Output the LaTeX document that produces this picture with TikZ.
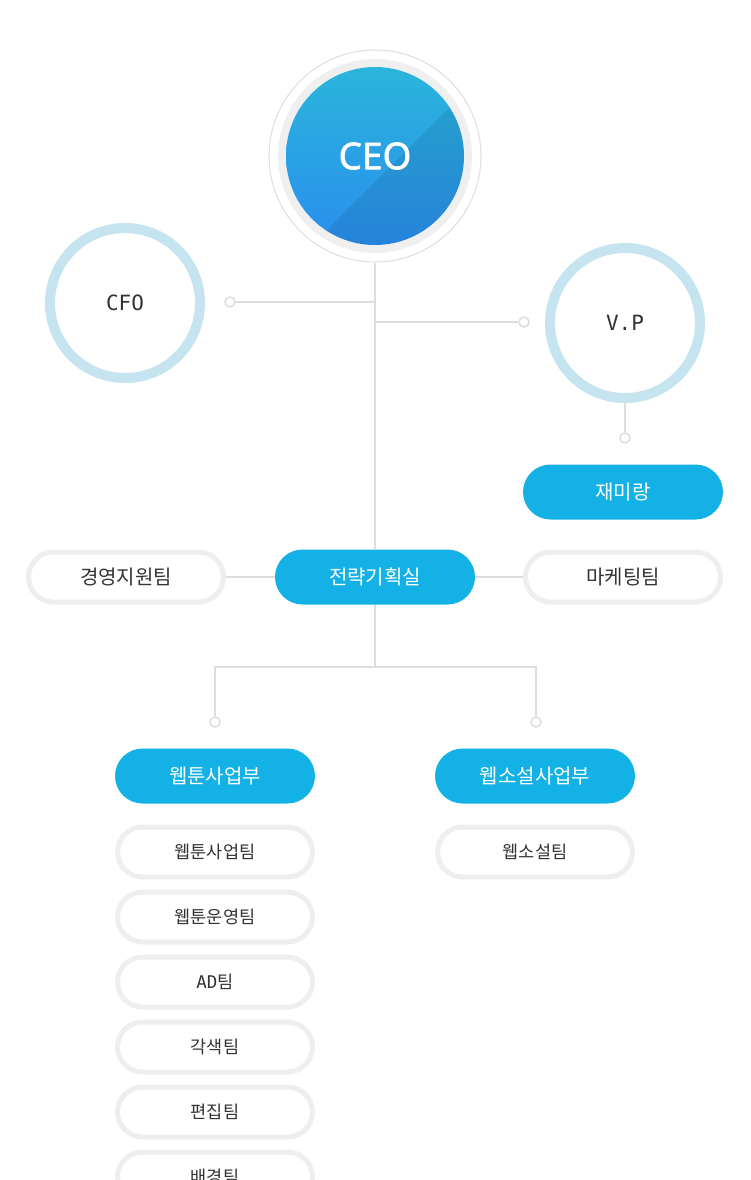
\documentclass[tikz,border=0pt]{standalone}
\usepackage{fontspec}
\setmainfont{Noto Sans CJK KR}
\setmonofont{DejaVu Sans Mono}
\newfontfamily\ceofont{Noto Sans}[FakeBold=1.6]
\definecolor{pillblue}{HTML}{13B1E5}
\definecolor{linegray}{HTML}{DDDDDD}
\definecolor{boxgray}{HTML}{EEEEEE}
\definecolor{ringblue}{HTML}{C5E4EF}
\definecolor{textgray}{HTML}{333333}
\definecolor{ceoband}{HTML}{EFEFEF}
\definecolor{ceotop}{HTML}{2AB5DB}
\definecolor{ceobottom}{HTML}{2A8EEE}
\begin{document}
\begin{tikzpicture}[x=1pt, y=-1pt,
  link/.style={draw=linegray, line width=2pt},
  pill node/.style={rounded corners=27.5pt, fill=pillblue, minimum width=200pt, minimum height=55pt, inner sep=0pt, text=white, font=\fontsize{20}{20}\selectfont},
  team node/.style={rounded corners=25pt, draw=boxgray, line width=5pt, fill=white, minimum width=195pt, minimum height=50pt, outer sep=2.5pt, inner sep=0pt, text=textgray, font=\fontsize{17.5}{17.5}\selectfont},
  ring node/.style={circle, draw=ringblue, line width=10pt, minimum size=150pt, outer sep=5pt, text=textgray, font=\ttfamily\fontsize{21}{21}\selectfont},
  end dot/.style={circle, draw=linegray, line width=1.5pt, fill=white, minimum size=10pt, inner sep=0pt}]
\useasboundingbox (0,0) rectangle (750,1180);
\clip (0,0) rectangle (750,1180);
% CEO disk
\fill[ceoband] (375,156) circle (97);
\shade[top color=ceotop, bottom color=ceobottom] (375,156) circle (89);
\begin{scope}
\clip (375,156) circle (89);
\fill[black, opacity=0.08] (580,-23) -- (300,257) -- (580,257) -- cycle;
\end{scope}
\node[circle, draw=linegray, line width=1pt, minimum size=212pt, text=white, font=\ceofont\fontsize{37}{37}\selectfont] (ceo) at (375,156) {CEO};
\begin{scope}
\node[ring node] (cfo) at (125,303) {CFO};
\node[ring node] (vp) at (625,323) {V.P};
\node[pill node] (jaemi) at (623,492) {재미랑};
\node[pill node] (plan) at (375,577) {전략기획실};
\node[team node, font=\fontsize{20}{20}\selectfont] (support) at (126,577) {경영지원팀};
\node[team node, font=\fontsize{20}{20}\selectfont] (marketing) at (623,577) {마케팅팀};
\node[pill node] (webtoon) at (215,776) {웹툰사업부};
\node[pill node] (webnovel) at (535,776) {웹소설사업부};
\node[team node] (wtbiz) at (215,852) {웹툰사업팀};
\node[team node] (wtops) at (215,917) {웹툰운영팀};
\node[team node] (wtad) at (215,982) {{\ttfamily AD}팀};
\node[team node] (wtadapt) at (215,1047) {각색팀};
\node[team node] (wtedit) at (215,1112) {편집팀};
\node[team node] (wtback) at (215,1177) {배경팀};
\node[team node] (wsteam) at (535,852) {웹소설팀};
\end{scope}
\begin{scope}
\coordinate (cfojoin) at (375,302);
\coordinate (vpjoin) at (375,322);
\coordinate (split) at (375,667);
\node[end dot] (cfodot) at (230,302) {};
\node[end dot] (vpdot) at (524,322) {};
\node[end dot] (vpdown) at (625,438) {};
\node[end dot] (wtdot) at (215,722) {};
\node[end dot] (wsdot) at (536,722) {};
\draw[link] (ceo) -- (plan);
\draw[link] (cfodot) -- (cfojoin);
\draw[link] (vpjoin) -- (vpdot);
\draw[link] (vp) -- (vpdown);
\draw[link] (support) -- (plan);
\draw[link] (plan) -- (marketing);
\draw[link] (plan) -- (split);
\draw[link] (wtdot) |- (split) -| (wsdot);
\end{scope}
\end{tikzpicture}
\end{document}
